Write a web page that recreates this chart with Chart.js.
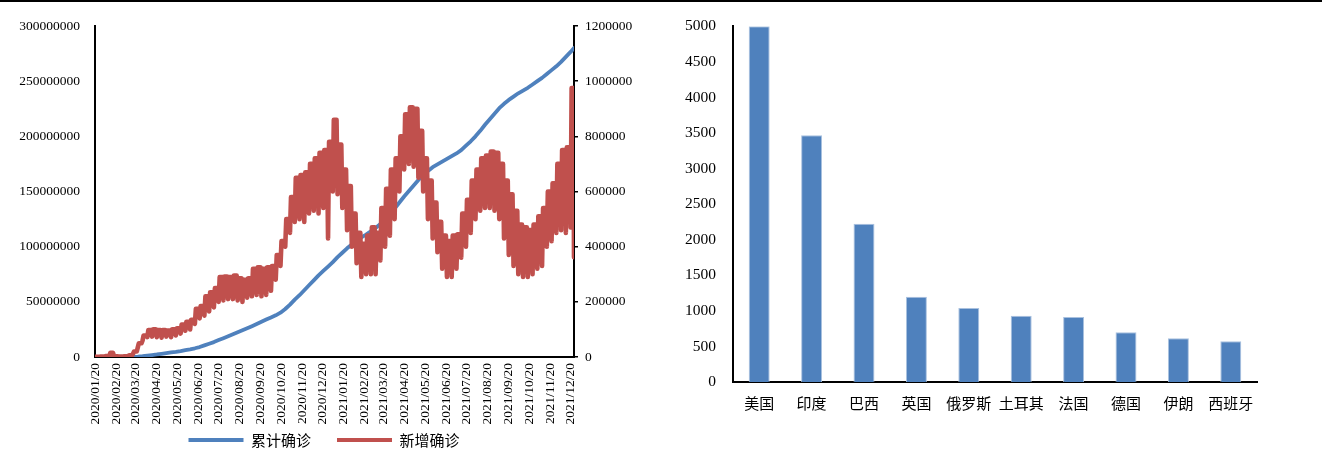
<!DOCTYPE html>
<html><head><meta charset="utf-8">
<script src="https://cdn.jsdelivr.net/npm/chart.js@4"></script>
<style>
html,body{margin:0;padding:0;background:#fff;overflow:hidden;width:1322px;height:453px;position:relative;}
#topline{position:absolute;left:0;top:0;width:1322px;height:2px;background:#000;}
#left{position:absolute;left:0;top:0;width:660px;height:460px;}
#right{position:absolute;left:660px;top:0;width:662px;height:453px;}
</style></head><body>
<div id="left"><canvas id="c1"></canvas></div>
<div id="right"><canvas id="c2"></canvas></div>
<div id="topline"></div>
<script>
// ---------- Left chart data (day 0 = 2020/01/20, one value per week) ----------
const tickDays = [0,31,60,91,121,152,182,213,244,274,305,335,366,397,425,456,486,517,547,578,609,639,670,700];
const tickLabels = ['2020/01/20','2020/02/20','2020/03/20','2020/04/20','2020/05/20','2020/06/20','2020/07/20','2020/08/20','2020/09/20','2020/10/20','2020/11/20','2020/12/20',
  '2021/01/20','2021/02/20','2021/03/20','2021/04/20','2021/05/20','2021/06/20','2021/07/20','2021/08/20','2021/09/20','2021/10/20','2021/11/20','2021/12/20'];
const lastDay = 705;
// 累计确诊 weekly (persons)
const cumulative = [300,6000,30000,60000,75000,80000,90000,110000,170000,370000,
  750000,1300000,1800000,2300000,2900000,3500000,4100000,4700000,5400000,6200000,
  7000000,7900000,9000000,10500000,12000000,13500000,15300000,17000000,18800000,20600000,
  22400000,24200000,26000000,27900000,29900000,31900000,33900000,35800000,37800000,40200000,
  43500000,47500000,52000000,56000000,60500000,65000000,69500000,74000000,78000000,82000000,
  86000000,90500000,94500000,98500000,102000000,105500000,108500000,111000000,114000000,117000000,
  120500000,124500000,129000000,134500000,140000000,145500000,150500000,155500000,160500000,165000000,
  168500000,172000000,174500000,177000000,179500000,182000000,184500000,187500000,191500000,195500000,
  200000000,205000000,210500000,215500000,220500000,225500000,229500000,233000000,236000000,239000000,
  241500000,244000000,247000000,250000000,253000000,256500000,260000000,263500000,267500000,272000000,
  276500000];
const cumulativeEnd = 280000000;
// 新增确诊: weekly low and weekly high (persons)
const newLow = [500,1000,2000,2500,2000,1000,1500,4000,12000,35000,
  60000,72000,74000,72000,70000,74000,72000,78000,85000,95000,
  100000,120000,140000,150000,165000,180000,200000,205000,210000,210000,
  205000,200000,215000,220000,225000,220000,225000,240000,280000,330000,
  400000,450000,490000,500000,490000,520000,530000,520000,540000,430000,
  600000,590000,540000,460000,400000,340000,290000,300000,300000,300000,
  350000,400000,440000,500000,600000,680000,700000,690000,650000,600000,
  500000,430000,380000,320000,290000,290000,320000,360000,400000,450000,
  500000,530000,540000,540000,530000,500000,430000,370000,330000,300000,
  290000,290000,300000,320000,330000,400000,420000,450000,460000,450000,
  470000];
const newHigh = [1000,2000,3000,15000,2500,2000,2500,6000,20000,50000,
  78000,98000,100000,98000,98000,96000,100000,104000,118000,128000,
  135000,175000,185000,220000,235000,250000,290000,292000,290000,295000,
  285000,280000,285000,320000,325000,320000,325000,330000,370000,420000,
  500000,580000,650000,660000,670000,700000,720000,740000,750000,780000,
  860000,770000,680000,620000,520000,450000,410000,440000,470000,450000,
  540000,610000,680000,720000,800000,880000,905000,900000,820000,720000,
  640000,560000,490000,440000,420000,440000,445000,520000,570000,640000,
  680000,720000,730000,745000,740000,700000,640000,590000,530000,480000,
  470000,460000,480000,510000,540000,600000,630000,700000,750000,760000,
  975000];
const newEnd = 362000;

// ---------- Right chart data ----------
const countries = ['美国','印度','巴西','英国','俄罗斯','土耳其','法国','德国','伊朗','西班牙'];
const countryValues = [5000,3470,2225,1200,1040,932,914,700,615,573];

const SERIF = '"Liberation Serif","Times New Roman",serif';
const CJK = '"Noto Sans CJK SC","Noto Sans CJK TC",sans-serif';

const cumPoints = cumulative.map((v,i)=>({x:i*7, y:v}));
cumPoints.push({x:lastDay, y:cumulativeEnd});
// each week: low day, then the high level held over the working days
const newPoints = [];
newLow.forEach((v,i)=>{
  newPoints.push({x:i*7, y:v});
  newPoints.push({x:i*7+1.5, y:newHigh[i]});
  newPoints.push({x:Math.min(i*7+5.5, lastDay-0.8), y:newHigh[i]});
});
newPoints.push({x:lastDay, y:newEnd});

const noLabelClip = ax => { ax._computeLabelArea = function(){ return undefined; }; };

new Chart(document.getElementById('c1'), {
  type:'line',
  data:{ datasets:[
    {label:'累计确诊', data:cumPoints, yAxisID:'y', borderColor:'#4F81BD', backgroundColor:'#4F81BD', borderWidth:3.8, pointRadius:0, tension:0, borderCapStyle:'round', borderJoinStyle:'round', order:1},
    {label:'新增确诊', data:newPoints, yAxisID:'y1', borderColor:'#C0504D', backgroundColor:'#C0504D', borderWidth:4.6, pointRadius:0, tension:0, borderCapStyle:'round', borderJoinStyle:'round', order:0}
  ]},
  options:{
    responsive:true, maintainAspectRatio:false, animation:false, devicePixelRatio:1,
    layout:{padding:{top:26,bottom:2.5,left:0,right:12}},
    plugins:{
      tooltip:{enabled:false},
      legend:{position:'bottom', labels:{sort:(a,b)=>a.datasetIndex-b.datasetIndex, usePointStyle:true, pointStyle:'line', pointStyleWidth:55, padding:26, color:'#000', font:{family:CJK,size:15},
        generateLabels:(chart)=>Chart.defaults.plugins.legend.labels.generateLabels(chart).map(l=>Object.assign(l,{lineWidth:3.8}))}}
    },
    scales:{
      x:{type:'linear', min:0, max:lastDay,
        grid:{display:false, drawTicks:false}, border:{display:true,color:'#000',width:2},
        ticks:{autoSkip:false, minRotation:90, maxRotation:90, padding:6, color:'#000', font:{family:SERIF,size:13.5}, callback:(v,i)=>tickLabels[i]},
        afterBuildTicks:ax=>{ ax.ticks = tickDays.map(d=>({value:d})); },
        afterFit:ax=>{ ax.height = 49.5; noLabelClip(ax); }
      },
      y:{position:'left', min:0, max:300000000,
        grid:{display:false, drawTicks:false}, border:{display:true,color:'#000',width:2},
        ticks:{stepSize:50000000, padding:15, color:'#000', font:{family:SERIF,size:13.5}, callback:v=>String(v)},
        afterFit:ax=>{ ax.width = 95; }
      },
      y1:{position:'right', min:0, max:1200000,
        grid:{display:true, drawOnChartArea:false, drawTicks:true, tickLength:4, color:'#000', lineWidth:1.5}, border:{display:true,color:'#000',width:2},
        ticks:{stepSize:200000, padding:7, color:'#000', font:{family:SERIF,size:13.5}, callback:v=>String(v)},
        afterFit:ax=>{ ax.width = 74; noLabelClip(ax); }
      }
    }
  }
});

new Chart(document.getElementById('c2'), {
  type:'bar',
  data:{ labels:countries, datasets:[{data:countryValues, backgroundColor:'#4F81BD', borderColor:'#A9C1DF', borderWidth:1, barPercentage:0.4, categoryPercentage:1}]},
  options:{
    responsive:true, maintainAspectRatio:false, animation:false, devicePixelRatio:1,
    layout:{padding:{top:24,right:65,left:0,bottom:0}},
    plugins:{legend:{display:false}, tooltip:{enabled:false}},
    scales:{
      x:{grid:{display:false, drawTicks:false}, border:{display:true,color:'#000',width:2},
        ticks:{padding:12, autoSkip:false, maxRotation:0, color:'#000', font:{family:CJK,size:15}},
        afterFit:ax=>{ ax.height = 71; }
      },
      y:{min:0, max:5000, grid:{display:false, drawTicks:false}, border:{display:true,color:'#000',width:2},
        ticks:{stepSize:500, padding:17, color:'#000', font:{family:SERIF,size:15.5}, callback:v=>String(v)},
        afterFit:ax=>{ ax.width = 73; }
      }
    }
  }
});
</script>
</body></html>
